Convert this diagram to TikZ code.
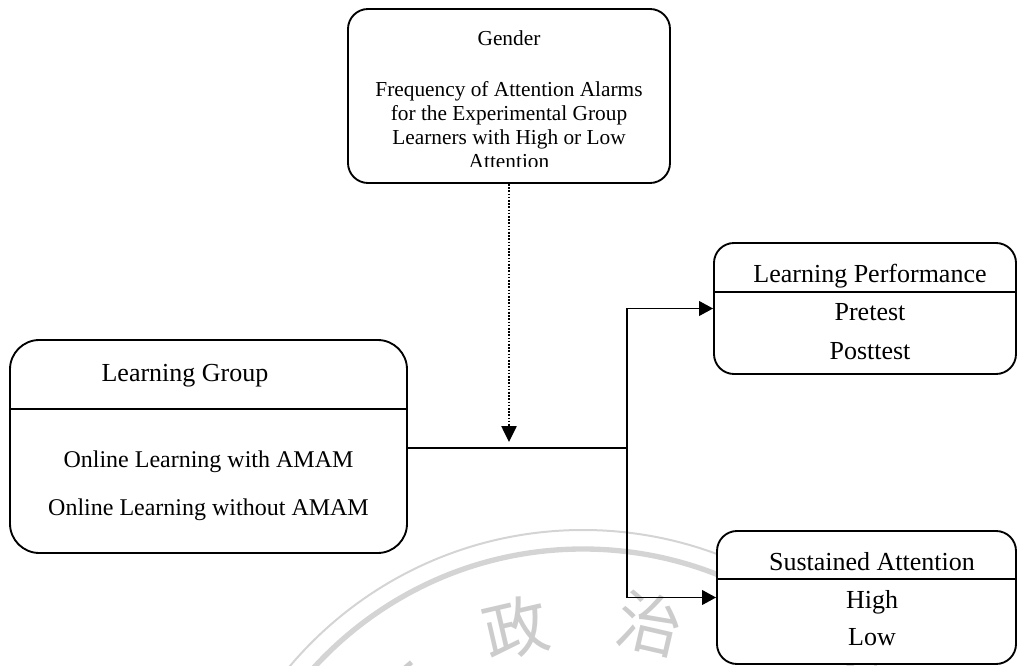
\documentclass[tikz,border=0pt]{standalone}
\usepackage{fontspec}
\setmainfont{Liberation Serif}
\newfontfamily\cjk{Noto Sans CJK TC}
\usetikzlibrary{arrows.meta}
\begin{document}
\begin{tikzpicture}[x=0.75pt,y=-0.75pt,
  box/.style={draw=black,line width=1.4pt,fill=white,rounded corners=#1,inner sep=0pt},
  conn/.style={draw=black,line width=1.4pt},
  tip/.style={-{Triangle[length=10.5pt,width=11pt]}},
  modtxt/.style={anchor=base,inner sep=0pt,font=\fontsize{16}{19}\selectfont},
  ttl/.style={anchor=base,inner sep=0pt,font=\fontsize{19.5}{23}\selectfont},
  bodytxt/.style={anchor=base,inner sep=0pt,font=\fontsize{18}{22}\selectfont},
  wmline/.style={draw=black!17},
  wmtext/.style={text=black!20,inner sep=0pt,font=\cjk\fontsize{49}{49}\selectfont}]
\useasboundingbox (0,0) rectangle (1017,666);
% watermark
\begin{scope}
  \clip (0,0) rectangle (1017,666);
  \draw[wmline,line width=1.5pt] (583,913.6) circle[radius=383.6];
  \draw[wmline,line width=4pt] (583,913.6) circle[radius=364.6];
  \node[wmtext,rotate=40] (wa) at (401,690) {立};
  \node[wmtext,rotate=13] (wb) at (516,628) {政};
  \node[wmtext,rotate=-13] (wc) at (650,624) {治};
\end{scope}
% boxes
\node[box=15pt,minimum width=241.5pt,minimum height=130.5pt] (mod) at (509,96) {};
\node[box=22pt,minimum width=297.75pt,minimum height=159.75pt] (lg) at (208.5,446.5) {};
\node[box=15pt,minimum width=226.5pt,minimum height=98.25pt] (perf) at (865,308.5) {};
\node[box=15pt,minimum width=224.25pt,minimum height=99.75pt] (sus) at (866.5,597.5) {};
% dividers
\coordinate (lgd) at (0,409);
\coordinate (pfd) at (0,292);
\coordinate (ssd) at (0,579);
\draw[conn] (lg.west |- lgd) -- (lg.east |- lgd);
\draw[conn] (perf.west |- pfd) -- (perf.east |- pfd);
\draw[conn] (sus.west |- ssd) -- (sus.east |- ssd);
% moderator text (clipped as in the frame)
\begin{scope}
  \clip (348,9) rectangle (670,166.5);
  \node[modtxt] (g) at (509,46) {Gender};
  \node[modtxt] (m1) at (509,96.5) {Frequency of Attention Alarms};
  \node[modtxt] (m2) at (509,120.5) {for the Experimental Group};
  \node[modtxt] (m3) at (509,144.5) {Learners with High or Low};
  \node[modtxt] (m4) at (509,168.5) {Attention};
\end{scope}
% learning group text
\node[ttl] (lgt) at (185,382) {Learning Group};
\node[bodytxt] (lg1) at (208.5,467) {Online Learning with AMAM};
\node[bodytxt] (lg2) at (208.5,515) {Online Learning without AMAM};
% performance text
\node[ttl] (pft) at (870,282.5) {Learning Performance};
\node[ttl] (pf1) at (870,320.5) {Pretest};
\node[ttl] (pf2) at (870,359) {Posttest};
% attention text
\node[ttl] (sst) at (872,570) {Sustained Attention};
\node[ttl] (ss1) at (872,608) {High};
\node[ttl] (ss2) at (872,645) {Low};
% connectors
\coordinate (j) at (627,448);
\coordinate (dt) at (509,442);
\draw[conn] (lg.east |- j) -- (j);
\draw[conn,tip] (j) |- (perf.west);
\draw[conn,tip] (j) |- (sus.west);
\draw[draw=black,line width=1.1pt,dash pattern=on 1.2pt off 1.2pt,-{Triangle[length=12pt,width=11.5pt]}] (mod.south) -- (dt);
\end{tikzpicture}
\end{document}
